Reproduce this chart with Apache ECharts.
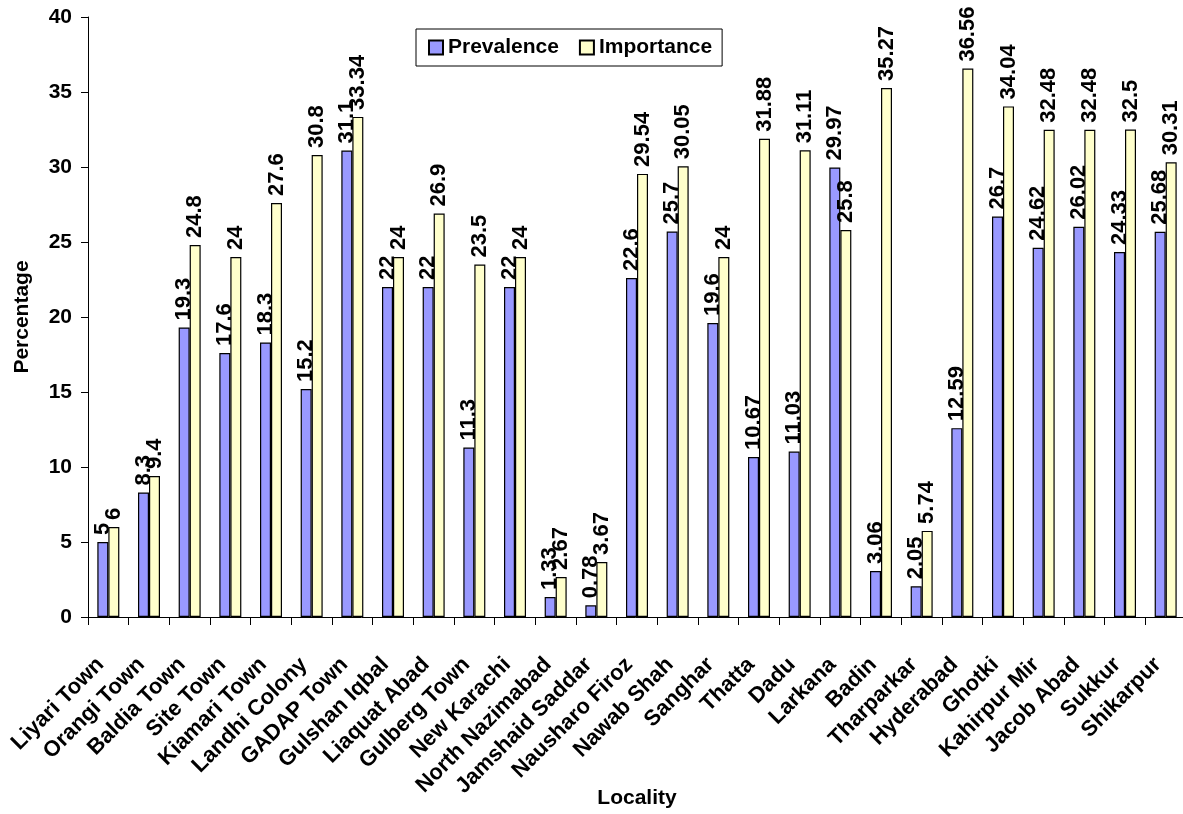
<!DOCTYPE html>
<html>
<head>
<meta charset="utf-8">
<script src="https://cdn.jsdelivr.net/npm/echarts@6/dist/echarts.min.js"></script>
<style>
  html, body { margin: 0; padding: 0; background: #fff; }
  #chart { width: 1183px; height: 814px; }
</style>
</head>
<body>
<div id="chart"></div>
<script>
// Localities along the horizontal axis
const localities = [
  'Liyari Town', 'Orangi Town', 'Baldia Town', 'Site Town', 'Kiamari Town',
  'Landhi Colony', 'GADAP Town', 'Gulshan Iqbal', 'Liaquat Abad', 'Gulberg Town',
  'New Karachi', 'North Nazimabad', 'Jamshaid Saddar', 'Nausharo Firoz', 'Nawab Shah',
  'Sanghar', 'Thatta', 'Dadu', 'Larkana', 'Badin', 'Tharparkar', 'Hyderabad',
  'Ghotki', 'Kahirpur Mir', 'Jacob Abad', 'Sukkur', 'Shikarpur'
];

// Percentages per locality
const prevalence = [
  5, 8.3, 19.3, 17.6, 18.3, 15.2, 31.1, 22, 22, 11.3, 22, 1.33, 0.78, 22.6, 25.7,
  19.6, 10.67, 11.03, 29.97, 3.06, 2.05, 12.59, 26.7, 24.62, 26.02, 24.33, 25.68
];
const importance = [
  6, 9.4, 24.8, 24, 27.6, 30.8, 33.34, 24, 26.9, 23.5, 24, 2.67, 3.67, 29.54, 30.05,
  24, 31.88, 31.11, 25.8, 35.27, 5.74, 36.56, 34.04, 32.48, 32.48, 32.5, 30.31
];

// Value axis settings
const yMin = 0, yMax = 40, yStep = 5;

const FONT = "'Liberation Sans', Arial, sans-serif";
const boldText = { fontFamily: FONT, fontWeight: 'bold', fontSize: 21, color: '#000' };

const barLabel = {
  show: true,
  position: 'top',
  distance: 7,
  rotate: 90,
  align: 'left',
  verticalAlign: 'middle',
  ...boldText,
  fontSize: 22
};

const chart = echarts.init(document.getElementById('chart'), null, { renderer: 'canvas' });

chart.setOption({
  animation: false,
  backgroundColor: '#fff',
  textStyle: { fontFamily: FONT },
  grid: {
    left: 88, top: 17, width: 1098, height: 600,
    containLabel: false,
    outerBoundsMode: 'none'
  },
  legend: {
    left: 416,
    top: 29,
    padding: [8, 10, 8, 12],
    itemGap: 20,
    itemWidth: 14,
    itemHeight: 14,
    icon: 'rect',
    borderColor: '#000',
    borderWidth: 1,
    backgroundColor: '#fff',
    textStyle: { ...boldText },
    data: ['Prevalence', 'Importance']
  },
  xAxis: {
    type: 'category',
    data: localities,
    name: 'Locality',
    nameLocation: 'middle',
    nameGap: 171,
    nameMoveOverlap: false,
    nameTextStyle: boldText,
    axisLine: { lineStyle: { color: '#000', width: 1 } },
    axisTick: { show: true, length: 8, lineStyle: { color: '#000' } },
    axisLabel: {
      ...boldText,
      fontSize: 22,
      rotate: 45,
      margin: 52,
      interval: 0,
      align: 'right',
      verticalAlign: 'bottom'
    },
    splitLine: { show: false }
  },
  yAxis: {
    type: 'value',
    min: yMin,
    max: yMax,
    interval: yStep,
    name: 'Percentage',
    nameLocation: 'middle',
    nameGap: 55,
    nameTextStyle: boldText,
    axisLine: { show: true, lineStyle: { color: '#000', width: 1 } },
    axisTick: { show: true, length: 7, lineStyle: { color: '#000' } },
    axisLabel: { ...boldText, margin: 16 },
    splitLine: { show: false }
  },
  series: [
    {
      name: 'Prevalence',
      type: 'bar',
      data: prevalence,
      barWidth: 11,
      barGap: '0%',
      itemStyle: { color: '#9999FF', borderColor: '#000', borderWidth: 1.2 },
      label: barLabel
    },
    {
      name: 'Importance',
      type: 'bar',
      data: importance,
      barWidth: 11,
      barGap: '0%',
      itemStyle: { color: '#FFFFCC', borderColor: '#000', borderWidth: 1.2 },
      label: barLabel
    }
  ]
});
</script>
</body>
</html>
